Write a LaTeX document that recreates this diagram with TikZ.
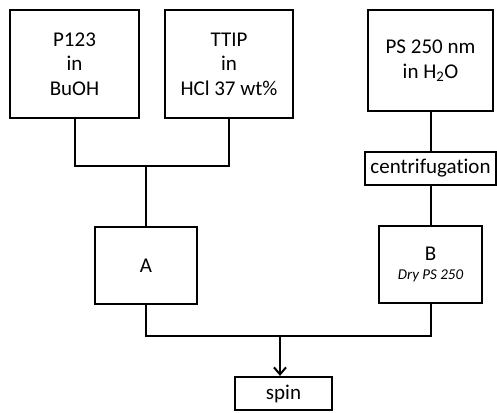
\documentclass[tikz,border=0pt]{standalone}
\usepackage{fontspec}
\setmainfont[Ligatures=NoCommon]{Carlito}
\usetikzlibrary{arrows.meta}
\begin{document}
\begin{tikzpicture}[x=1pt,y=-1pt,
  box/.style={draw,line width=2.2pt,rectangle,align=center,inner sep=0pt,font=\fontsize{21}{24.5}\selectfont},
  conn/.style={line width=2pt}]
\useasboundingbox (0,0) rectangle (497,412);
\node[box,minimum width=129pt,minimum height=108pt] (p123) at (74.5,64) {P123\\in\\BuOH};
\node[box,minimum width=128pt,minimum height=108pt] (ttip) at (229,64) {TTIP\\in\\HCl 37 wt\%};
\node[box,minimum width=125pt,minimum height=101pt] (ps) at (430.5,60.5) {PS 250 nm\\in H\textsubscript{2}O};
\node[box,minimum width=131pt,minimum height=33pt] (centri) at (430.5,168.5) {centrifugation};
\node[box,minimum width=102pt,minimum height=77pt] (a) at (146,265.5) {A};
\node[box,minimum width=103pt,minimum height=77pt] (b) at (430.5,264.5) {B\\[-5pt]{\fontsize{15}{17}\selectfont\itshape Dry PS 250}};
\node[box,minimum width=97pt,minimum height=33pt] (spin) at (283.5,393.5) {spin};
\coordinate (j1) at (146,166);
\coordinate (j2) at (280,336);
\draw[conn] (p123.south) |- (j1) -| (ttip.south);
\draw[conn] (j1) -- (a.north);
\draw[conn] (ps.south) -- (centri.north);
\draw[conn] (centri.south) -- (b.north);
\draw[conn] (a.south) |- (j2) -| (b.south);
\draw[conn,-{Straight Barb[length=7pt,width=12pt]}] (j2) -- (j2 |- spin.north);
\end{tikzpicture}
\end{document}
